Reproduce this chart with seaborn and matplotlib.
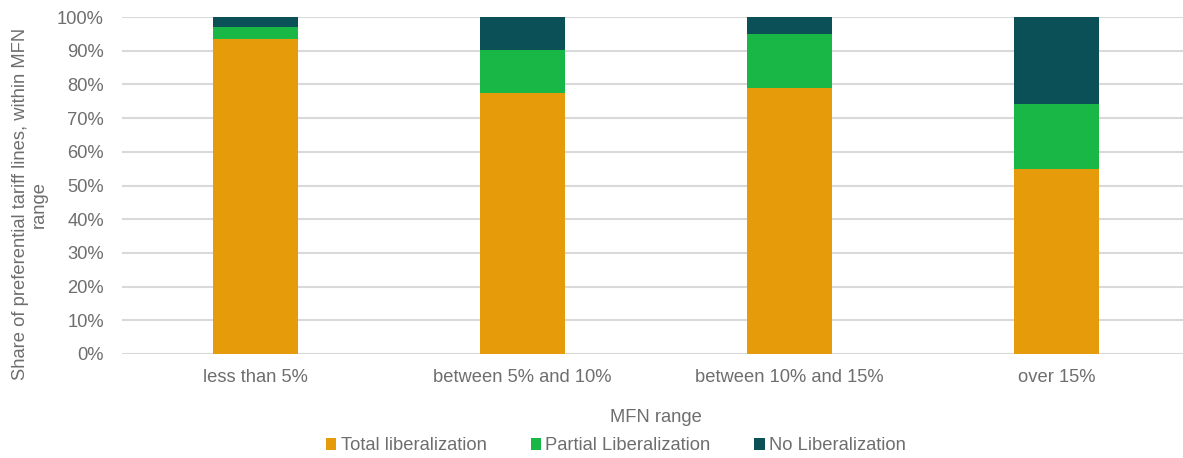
import matplotlib
matplotlib.use("Agg")
import matplotlib.pyplot as plt
import matplotlib.ticker as mticker
from matplotlib.patches import Patch
import numpy as np
import pandas as pd
import seaborn as sns

categories = ["less than 5%", "between 5% and 10%", "between 10% and 15%", "over 15%"]
total_lib = [93.5, 77.4, 78.8, 54.9]
partial_lib = [3.5, 12.8, 16.2, 19.3]
no_lib = [3.0, 9.8, 5.0, 25.8]

series_names = ["Total liberalization", "Partial Liberalization", "No Liberalization"]
colors = ["#E59B0A", "#19B846", "#0B5057"]

sns.set_theme(style="white")
plt.rcParams["font.family"] = ["Liberation Sans", "DejaVu Sans"]
text_color = "#6E6E6E"
fs = 13.2

df = pd.DataFrame({
    "MFN range": categories,
    "total": total_lib,
    "partial": partial_lib,
    "none": no_lib,
})
df["cum_total"] = df["total"]
df["cum_partial"] = df["total"] + df["partial"]
df["cum_none"] = df["cum_partial"] + df["none"]

fig = plt.figure(figsize=(11.83, 4.58), dpi=100)
ax = fig.add_axes([122 / 1183, (458 - 354) / 458, 1068 / 1183, 337 / 458])

# stacked bars: draw cumulative heights from the top segment down
for col, color in zip(["cum_none", "cum_partial", "cum_total"], colors[::-1]):
    sns.barplot(data=df, x="MFN range", y=col, color=color, width=0.315,
                saturation=1, ax=ax, zorder=3, edgecolor="none")

ax.set_ylim(0, 100)
ax.set_xlim(-0.5, 3.5)
ax.yaxis.set_major_locator(mticker.MultipleLocator(10))
ax.yaxis.set_major_formatter(mticker.FuncFormatter(lambda v, _: f"{v:.0f}%"))
ax.grid(axis="y", color="#D9D9D9", linewidth=1.5, zorder=0)
ax.grid(axis="x", visible=False)
for side in ["top", "right", "left", "bottom"]:
    ax.spines[side].set_visible(False)

ax.tick_params(axis="both", length=0, labelsize=fs, colors=text_color)
ax.tick_params(axis="y", pad=13)
ax.tick_params(axis="x", pad=11)

ax.set_xlabel("MFN range", fontsize=fs, color=text_color)
ax.xaxis.set_label_coords(0.5, -64 / 337, transform=ax.transAxes)
ax.xaxis.label.set_va("center")
ax.set_ylabel("Share of preferential tariff lines, within MFN\nrange",
              fontsize=fs, color=text_color, linespacing=1.15)
ax.yaxis.set_label_coords(-0.0693, 0.445)

handles = [Patch(facecolor=c, edgecolor="none") for c in colors]
fig.legend(handles, series_names, loc="center", ncol=3, frameon=False,
           bbox_to_anchor=(616 / 1183, 1 - 446 / 458), fontsize=fs,
           labelcolor=text_color, handlelength=0.55, handleheight=0.55,
           handletextpad=0.25, columnspacing=2.4)

fig.savefig("out.png", dpi=100)
